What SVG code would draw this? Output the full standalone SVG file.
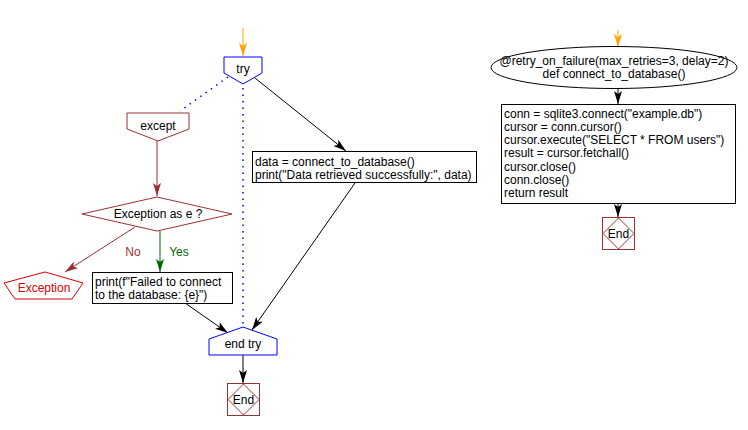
<svg xmlns="http://www.w3.org/2000/svg" width="748" height="430" viewBox="0 0 748 430">
<style>
text{font-family:"Liberation Sans",Arial,sans-serif;font-size:12px;fill:#000}
.c{text-anchor:middle}
.box{fill:#fff;stroke:#000;stroke-width:1}
.blue{fill:#fff;stroke:#0000ff;stroke-width:1}
.dred{fill:#fff;stroke:#993333;stroke-width:1}
.ln{fill:none;stroke:#000;stroke-width:1}
.dot{stroke:#0000ff;stroke-width:1.5;stroke-dasharray:1.5,5}
</style>
<defs>
<marker id="ab" markerUnits="userSpaceOnUse" markerWidth="14" markerHeight="10" refX="13" refY="5" orient="auto"><path d="M0,1 L13,5 L0,9 L3,5 z" fill="#000"/></marker>
<marker id="ar" markerUnits="userSpaceOnUse" markerWidth="14" markerHeight="10" refX="13" refY="5" orient="auto"><path d="M0,1 L13,5 L0,9 L3,5 z" fill="#993333"/></marker>
<marker id="ag" markerUnits="userSpaceOnUse" markerWidth="14" markerHeight="10" refX="13" refY="5" orient="auto"><path d="M0,1 L13,5 L0,9 L3,5 z" fill="#006600"/></marker>
<marker id="ao" markerUnits="userSpaceOnUse" markerWidth="14" markerHeight="10" refX="13" refY="5" orient="auto"><path d="M0,1 L13,5 L0,9 L3,5 z" fill="#ffa500"/></marker>
</defs>
<g id="connectors">
<line x1="243" y1="28" x2="243" y2="56" stroke="#ffa500" stroke-width="1" marker-end="url(#ao)"/>
<line class="dot" x1="228" y1="77" x2="180" y2="111"/>
<line class="dot" x1="243" y1="88" x2="243" y2="329"/>
<line class="ln" x1="255" y1="78" x2="346" y2="151" marker-end="url(#ab)"/>
<line x1="157" y1="141" x2="157" y2="196" stroke="#993333" marker-end="url(#ar)"/>
<line x1="135" y1="227" x2="65" y2="272" stroke="#993333" marker-end="url(#ar)"/>
<text x="133" y="256" class="c" style="fill:#993333">No</text>
<line x1="160" y1="231" x2="160" y2="272" stroke="#006600" marker-end="url(#ag)"/>
<text x="179" y="256" class="c" style="fill:#006600">Yes</text>
<line class="ln" x1="185" y1="303" x2="228" y2="333" marker-end="url(#ab)"/>
<line class="ln" x1="355" y1="183" x2="252" y2="330" marker-end="url(#ab)"/>
<line class="ln" x1="243" y1="355" x2="243" y2="383" stroke-width="2" marker-end="url(#ab)"/>
<line x1="618" y1="30" x2="618" y2="47" stroke="#ffa500" marker-end="url(#ao)"/>
<line class="ln" x1="618" y1="88" x2="618" y2="104" stroke-width="2" marker-end="url(#ab)"/>
<line class="ln" x1="618" y1="203" x2="618" y2="217" stroke-width="2" marker-end="url(#ab)"/>
</g>
<g id="try">
<polygon class="blue" points="224,57 262,57 262,73 243,84 224,73"/>
<text x="243" y="73" class="c">try</text>
</g>
<g id="except">
<polygon class="dred" points="127,113 189,113 189,129 158,141 127,129"/>
<text x="158" y="130" class="c">except</text>
</g>
<g id="decision">
<polygon class="dred" points="82,214 157,197 232,214 157,231"/>
<text x="158" y="218" class="c">Exception as e ?</text>
</g>
<g id="exception">
<polygon fill="#fff" stroke="#dd0000" points="4,283 45,272 83,283 72,299 15,299"/>
<text x="44" y="292" class="c" style="fill:#dd0000">Exception</text>
</g>
<g id="print">
<rect class="box" x="92.5" y="272.5" width="140" height="31"/>
<text x="95" y="286">print(f"Failed to connect</text>
<text x="95" y="299">to the database: {e}")</text>
</g>
<g id="data">
<rect class="box" x="252.5" y="151.5" width="224" height="31"/>
<text x="255" y="166">data = connect_to_database()</text>
<text x="255" y="179">print("Data retrieved successfully:", data)</text>
</g>
<g id="endtry">
<polygon class="blue" points="209,339 243,327 277,339 277,355 209,355"/>
<text x="243" y="348" class="c">end try</text>
</g>
<g id="end1">
<rect class="dred" x="227.5" y="383.5" width="32" height="32"/>
<polygon fill="none" stroke="#993333" points="243.5,384 259,399.5 243.5,415 228,399.5"/>
<text x="243.5" y="404" class="c">End</text>
</g>
<g id="func">
<ellipse cx="614" cy="67.5" rx="123" ry="21" fill="#fff" stroke="#000"/>
<text x="614" y="65" class="c">@retry_on_failure(max_retries=3, delay=2)</text>
<text x="614" y="78" class="c">def connect_to_database()</text>
</g>
<g id="body">
<rect class="box" x="501.5" y="104.5" width="234" height="99"/>
<text x="504" y="118">conn = sqlite3.connect("example.db")</text>
<text x="504" y="131">cursor = conn.cursor()</text>
<text x="504" y="144">cursor.execute("SELECT * FROM users")</text>
<text x="504" y="157">result = cursor.fetchall()</text>
<text x="504" y="171">cursor.close()</text>
<text x="504" y="184">conn.close()</text>
<text x="504" y="197">return result</text>
</g>
<g id="end2">
<rect class="dred" x="602.5" y="217.5" width="32" height="32"/>
<polygon fill="none" stroke="#993333" points="618.5,218 634,233.5 618.5,249 603,233.5"/>
<text x="618.5" y="238" class="c">End</text>
</g>
</svg>
